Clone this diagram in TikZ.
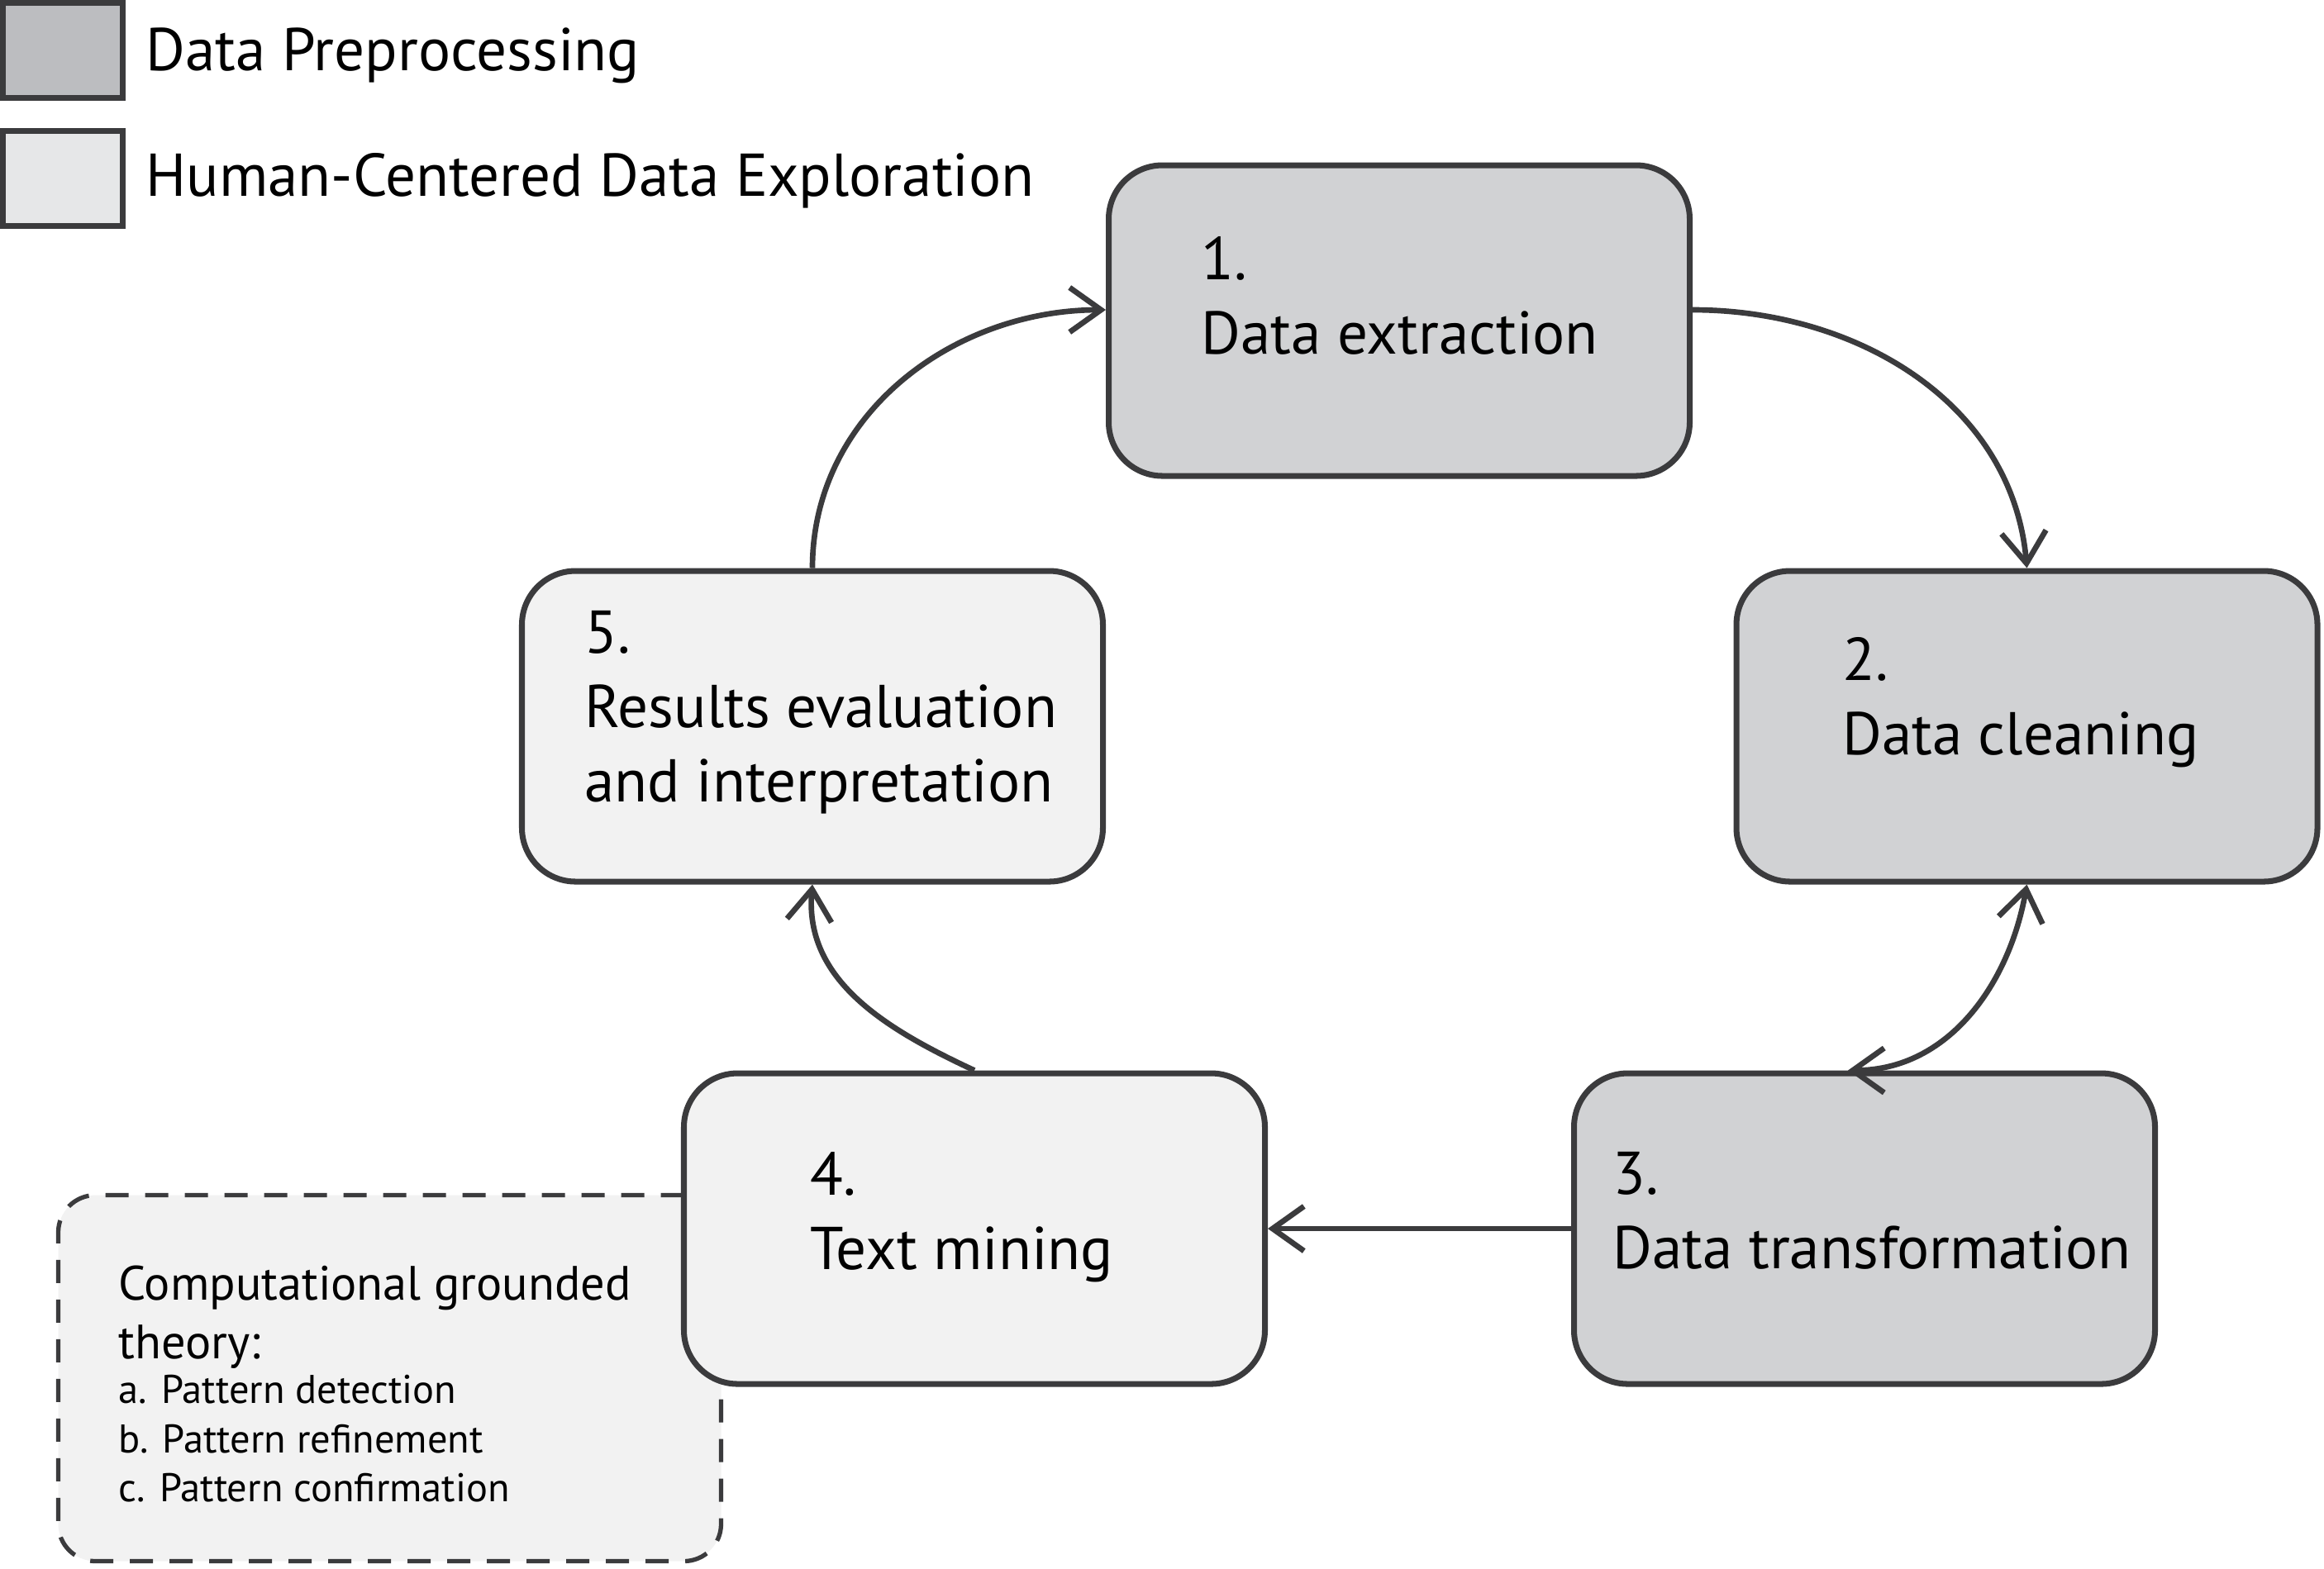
\documentclass[tikz,border=0pt]{standalone}
\usepackage{fontspec}
\setmainfont{PT Sans}
\usetikzlibrary{positioning,calc,arrows.meta}

\definecolor{edge}{HTML}{3B3B3D}
\definecolor{pre}{HTML}{D1D2D4}
\definecolor{hum}{HTML}{F2F2F2}
\definecolor{prekey}{HTML}{BCBDC0}
\definecolor{humkey}{HTML}{E6E7E8}

\tikzset{
  >={Straight Barb[length=3.8mm,width=5.4mm]},
  stage/.style={draw=edge, line width=2pt, rounded corners=0.65cm, minimum width=7.03cm, minimum height=3.76cm},
  stagetext/.style={anchor=north west, inner sep=0pt, align=left, font=\fontsize{20.8}{25.6}\selectfont},
  key/.style={draw=edge, line width=2pt, minimum width=1.45cm, minimum height=1.15cm},
  keytext/.style={inner sep=0pt, font=\fontsize{20.8}{24}\selectfont},
  flow/.style={draw=edge, line width=1.9pt, ->},
}

\begin{document}
\begin{tikzpicture}
  \useasboundingbox (0,0) rectangle (28.12,-18.98);

  % Legend
  \node[key, fill=prekey] (k1) at (0.76,-0.61) {};
  \node[key, fill=humkey] (k2) at (0.76,-2.16) {};
  \node[keytext, right=0.24cm of k1, yshift=-0.06cm] (kt1) {Data Preprocessing};
  \node[keytext, right=0.24cm of k2, yshift=-0.03cm] (kt2) {Human-Centered Data Exploration};

  % Note on step 4 (goes first, box 4 lies over it)
  \node[draw=edge, fill=hum, line width=1.5pt, dash pattern=on 0.28cm off 0.2cm,
        rounded corners=0.45cm, minimum width=8.02cm, minimum height=4.43cm] (note) at (4.715,-16.68) {};
  \node[anchor=north west, inner sep=0pt, align=left, font=\fontsize{16.6}{20.4}\selectfont] (notetext)
    at ($(note.north west)+(0.75,-0.87)$)
    {Computational grounded\\theory:\\[-5pt]
     {\fontsize{13.8}{17}\selectfont a. Pattern detection}\\[-3.5pt]
     {\fontsize{13.8}{17}\selectfont b. Pattern refinement}\\[-3.5pt]
     {\fontsize{13.8}{17}\selectfont c. Pattern confirmation}};

  % Process steps
  \foreach \name/\x/\y/\col in {s1/16.93/-3.88/pre, s2/24.525/-8.79/pre, s3/22.56/-14.87/pre,
                                s4/11.79/-14.87/hum, s5/9.83/-8.79/hum} {
      \node[stage, fill=\col] (\name) at (\x,\y) {};
  }

  % Step labels
  \foreach \name/\dx/\dy/\txt in {s1/1.15/-0.89/{1.\\Data extraction},
                                  s2/1.31/-0.83/{2.\\Data cleaning},
                                  s3/0.50/-0.98/{3.\\Data transformation},
                                  s4/1.56/-0.98/{4.\\Text mining},
                                  s5/0.79/-0.51/{5.\\Results evaluation\\and interpretation}} {
      \node[stagetext] (\name t) at ($(\name.north west)+(\dx,\dy)$) {\txt};
  }

  % Arrows between steps
  \draw[flow] (s5.north) to[out=90, in=180] ([yshift=0.13cm]s1.west);
  \draw[flow] ([yshift=0.13cm]s1.east) to[out=0, in=95] (s2.north);
  \draw[flow, <->] ([xshift=-0.2cm]s3.north) to[out=0, in=-100] (s2.south);
  \draw[flow] (s3.west) -- (s4.east);
  \draw[flow] (s4.north) to[out=155, in=-95] (s5.south);

\end{tikzpicture}
\end{document}
